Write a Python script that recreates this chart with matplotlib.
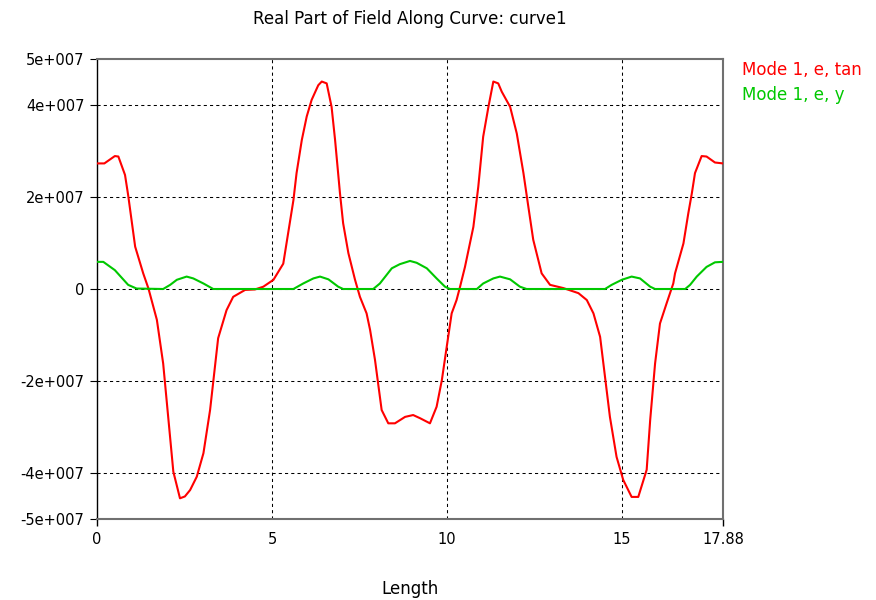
import matplotlib
matplotlib.use('Agg')
import matplotlib.pyplot as plt

matplotlib.rcParams['font.family'] = ['DejaVu Sans']
matplotlib.rcParams['font.size'] = 10.5

# red curve: Mode 1, e, tan (x in length units, y in 1e6)
tan_x = [0.0, 0.21, 0.51, 0.61, 0.80, 0.89, 1.09, 1.32, 1.47, 1.71, 1.89, 2.18, 2.37, 2.51,
         2.66, 2.85, 3.04, 3.23, 3.46, 3.70, 3.89, 4.23, 4.51, 4.75, 5.04, 5.32, 5.61, 5.70,
         5.85, 5.99, 6.13, 6.32, 6.42, 6.56, 6.70, 6.80, 6.94, 7.03, 7.18, 7.37, 7.51, 7.70,
         7.80, 7.94, 8.13, 8.32, 8.51, 8.80, 9.03, 9.23, 9.51, 9.70, 9.85, 9.99, 10.13, 10.27,
         10.37, 10.51, 10.75, 10.89, 11.03, 11.18, 11.32, 11.46, 11.56, 11.80, 11.99, 12.18,
         12.32, 12.46, 12.70, 12.94, 13.32, 13.75, 13.99, 14.18, 14.37, 14.51, 14.65, 14.84,
         15.03, 15.27, 15.46, 15.70, 15.80, 15.94, 16.08, 16.27, 16.46, 16.51, 16.75, 16.89,
         16.99, 17.08, 17.27, 17.41, 17.65, 17.88]
tan_y = [27.3, 27.3, 28.9, 28.8, 24.8, 20.4, 9.2, 3.4, 0.1, -6.7, -16.2, -39.7, -45.5, -45.1,
         -43.7, -40.8, -35.7, -26.3, -10.7, -4.6, -1.7, -0.2, -0.1, 0.5, 2.0, 5.5, 19.3, 25.2,
         32.4, 37.5, 41.1, 44.3, 45.1, 44.7, 39.6, 32.4, 20.8, 14.3, 7.8, 2.0, -1.7, -5.3,
         -8.9, -15.4, -26.3, -29.2, -29.2, -27.8, -27.4, -28.1, -29.2, -25.6, -19.8, -12.5, -5.3, -2.4,
         0.5, 4.8, 13.5, 22.2, 33.1, 39.6, 45.1, 44.7, 42.9, 39.6, 33.8, 25.2,
         17.9, 10.7, 3.4, 0.9, 0.2, -0.9, -2.4, -5.3, -10.4, -19.1, -27.8, -36.5,
         -41.5, -45.2, -45.2, -39.3, -28.5, -16.2, -7.5, -3.1, 1.2, 3.4, 9.9, 16.5,
         20.8, 25.2, 28.9, 28.8, 27.5, 27.3]

# green curve: Mode 1, e, y
y_x = [0.0, 0.18, 0.51, 0.89, 1.13, 1.89, 2.09, 2.28, 2.56, 2.75, 3.04, 3.32, 5.61, 5.89,
       6.18, 6.37, 6.61, 6.89, 7.03, 7.89, 8.08, 8.42, 8.65, 8.94, 9.13, 9.42, 9.70, 9.94,
       10.08, 10.85, 11.03, 11.32, 11.51, 11.80, 12.08, 12.27, 14.51, 14.70, 14.99, 15.27,
       15.51, 15.80, 15.94, 16.80, 16.94, 17.13, 17.41, 17.65, 17.88]
y_y = [5.9, 5.9, 4.1, 0.9, 0.1, 0.0, 0.9, 2.0, 2.7, 2.3, 1.2, 0.0, 0.0, 1.2,
       2.3, 2.7, 2.1, 0.5, 0.0, 0.0, 1.2, 4.5, 5.4, 6.1, 5.7, 4.5, 2.3, 0.5,
       0.0, 0.0, 1.2, 2.3, 2.7, 2.1, 0.5, 0.0, 0.0, 0.9, 2.0, 2.7,
       2.3, 0.5, 0.0, 0.0, 0.9, 2.7, 4.8, 5.8, 5.9]

xticks = [0, 5, 10, 15, 17.88]
xtick_labels = ['0', '5', '10', '15', '17.88']
yticks = [-5e7, -4e7, -2e7, 0, 2e7, 4e7, 5e7]
ytick_labels = ['-5e+007', '-4e+007', '-2e+007', '0', '2e+007', '4e+007', '5e+007']

red = '#ff0000'
green = '#00c800'

fig = plt.figure(figsize=(8.76, 6.0), dpi=100)
ax = fig.add_axes([97/876, 1 - 519/600, (723-97)/876, (519-59)/600])

ax.plot(tan_x, [v * 1e6 for v in tan_y], color=red, linewidth=1.5, zorder=3)
ax.plot(y_x, [v * 1e6 for v in y_y], color=green, linewidth=1.5, zorder=3)

ax.set_xlim(0, 17.88)
ax.set_ylim(-5e7, 5e7)
ax.set_xticks(xticks)
ax.set_xticklabels(xtick_labels)
ax.set_yticks(yticks)
ax.set_yticklabels(ytick_labels)

# grid only on interior lines
for xv in [5, 10, 15]:
    ax.axvline(xv, color='black', linewidth=0.75, linestyle=(0, (3, 3)), zorder=1)
for yv in [-4e7, -2e7, 0, 2e7, 4e7]:
    ax.axhline(yv, color='black', linewidth=0.75, linestyle=(0, (3, 3)), zorder=1)

for s in ['top', 'right', 'bottom']:
    ax.spines[s].set_color('#707070')
    ax.spines[s].set_linewidth(1.5)
ax.spines['left'].set_color('black')
ax.spines['left'].set_linewidth(1.0)

ax.tick_params(axis='y', length=5, width=0.8, color='black', pad=4)
ax.tick_params(axis='x', length=5, width=1.0, color='black', pad=4)
for i, t in enumerate(ax.xaxis.get_major_ticks()):
    if i not in (0, len(xticks) - 1):
        t.tick1line.set_markersize(0)
    if i == len(xticks) - 1:
        t.tick1line.set_color('#707070')

ax.set_title('Real Part of Field Along Curve: curve1', pad=25, fontsize=12)
ax.set_xlabel('Length', labelpad=24, fontsize=12)

fig.text(742/876, 1 - 70/600, 'Mode 1, e, tan', color=red, fontsize=12, va='center')
fig.text(742/876, 1 - 95/600, 'Mode 1, e, y', color=green, fontsize=12, va='center')

fig.savefig('out.png', dpi=100)
